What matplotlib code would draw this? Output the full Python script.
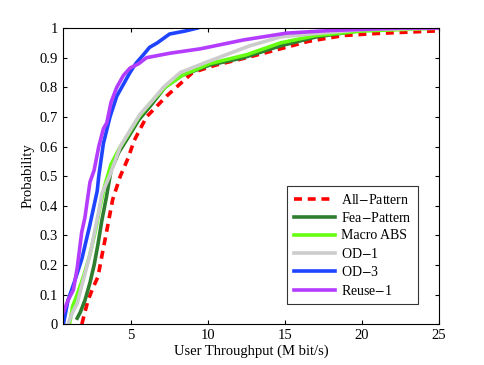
import matplotlib
matplotlib.use("Agg")
from matplotlib import pyplot as plt

plt.rcParams['font.family'] = ['Liberation Serif', 'DejaVu Serif']
plt.rcParams['mathtext.fontset'] = 'stix'

# CDF curves: throughput (M bit/s) -> probability
all_x = [1.8, 2.0, 2.2, 2.5, 2.85, 3.1, 3.4, 3.8, 4.3, 4.8, 5.2, 6.0, 7.3, 9.0, 10.5, 12.5, 14.7, 16.5, 18.8, 21.0, 24.6, 25.0]
all_y = [0.0, 0.04, 0.08, 0.12, 0.16, 0.23, 0.31, 0.42, 0.50, 0.56, 0.62, 0.70, 0.77, 0.85, 0.875, 0.90, 0.93, 0.955, 0.975, 0.982, 0.99, 0.99]

fea_x = [1.5, 1.7, 2.0, 2.33, 2.6, 2.85, 3.1, 3.4, 3.7, 4.2, 4.8, 5.5, 6.3, 7.2, 8.3, 10.1, 12.3, 14.7, 17.0, 21.0, 25.0]
fea_y = [0.02, 0.04, 0.08, 0.14, 0.20, 0.27, 0.35, 0.43, 0.52, 0.58, 0.63, 0.69, 0.74, 0.80, 0.84, 0.875, 0.90, 0.94, 0.97, 1.0, 1.0]

abs_x = [1.0, 1.2, 1.5, 1.9, 2.3, 2.66, 3.0, 3.3, 3.7, 4.2, 4.8, 5.5, 6.3, 7.2, 8.3, 10.1, 12.5, 14.7, 17.0, 20.0, 25.0]
abs_y = [0.0, 0.06, 0.10, 0.16, 0.23, 0.31, 0.40, 0.47, 0.54, 0.59, 0.64, 0.70, 0.75, 0.80, 0.84, 0.88, 0.91, 0.95, 0.975, 0.99, 1.0]

od1_x = [0.9, 1.2, 1.5, 1.8, 2.1, 2.4, 2.66, 2.9, 3.1, 3.6, 4.3, 5.0, 5.6, 6.3, 7.1, 8.2, 9.9, 12.7, 14.7, 16.6, 20.0, 25.0]
od1_y = [0.0, 0.04, 0.07, 0.13, 0.19, 0.25, 0.32, 0.38, 0.44, 0.50, 0.60, 0.66, 0.71, 0.75, 0.80, 0.85, 0.885, 0.94, 0.97, 0.98, 0.995, 1.0]

od3_x = [0.6, 0.9, 1.3, 1.8, 2.3, 2.8, 2.9, 3.2, 3.63, 4.07, 4.5, 4.93, 5.3, 5.8, 6.2, 6.7, 7.5, 8.5, 9.3]
od3_y = [0.0, 0.08, 0.14, 0.22, 0.33, 0.45, 0.50, 0.61, 0.70, 0.77, 0.81, 0.85, 0.88, 0.91, 0.935, 0.95, 0.98, 0.99, 1.0]

reuse_x = [0.6, 0.9, 1.25, 1.5, 1.79, 2.0, 2.33, 2.6, 2.9, 3.2, 3.42, 3.7, 4.07, 4.5, 4.93, 5.5, 6.0, 7.5, 9.5, 12.3, 15.1, 18.0, 22.5, 25.0]
reuse_y = [0.04, 0.08, 0.115, 0.19, 0.31, 0.36, 0.48, 0.52, 0.60, 0.66, 0.68, 0.75, 0.80, 0.84, 0.865, 0.88, 0.90, 0.915, 0.93, 0.96, 0.983, 0.992, 1.0, 1.0]

fig = plt.figure(figsize=(4.85, 3.65), dpi=100)
ax = fig.add_axes([0.13, 0.112, 0.775, 0.811])

lw = 2.6
ax.plot(all_x, all_y, color='#ff0000', linestyle=(0, (2.2, 1.6)), lw=lw, label='All$-$Pattern')
ax.plot(fea_x, fea_y, color='#2f7d2f', lw=lw, label='Fea$-$Pattern')
ax.plot(abs_x, abs_y, color='#66ff11', lw=lw, label='Macro ABS')
ax.plot(od1_x, od1_y, color='#cccccc', lw=lw, label='OD$-$1')
ax.plot(od3_x, od3_y, color='#1f44ff', lw=lw, label='OD$-$3')
ax.plot(reuse_x, reuse_y, color='#b43cff', lw=lw, label='Reuse$-$1')

ax.set_xlim(0.58, 25)
ax.set_ylim(0, 1)
ax.set_xticks([5, 10, 15, 20, 25])
ax.set_yticks([i / 10 for i in range(11)])
ax.set_yticklabels(['0', '0.1', '0.2', '0.3', '0.4', '0.5', '0.6', '0.7', '0.8', '0.9', '1'])
ax.tick_params(direction='in', top=True, right=True, labelsize=10.5, length=3)
ax.set_xlabel('User Throughput (M bit/s)', fontsize=10.5, labelpad=2)
ax.set_ylabel('Probability', fontsize=10.5, labelpad=4)

leg = ax.legend(loc='lower right', bbox_to_anchor=(0.944, 0.068), borderaxespad=0,
                fontsize=10, frameon=True, fancybox=False, edgecolor='black',
                handlelength=3.0, labelspacing=0.32, borderpad=0.45, handletextpad=0.4)
leg.get_frame().set_linewidth(0.8)

fig.savefig('out.png', dpi=100)
